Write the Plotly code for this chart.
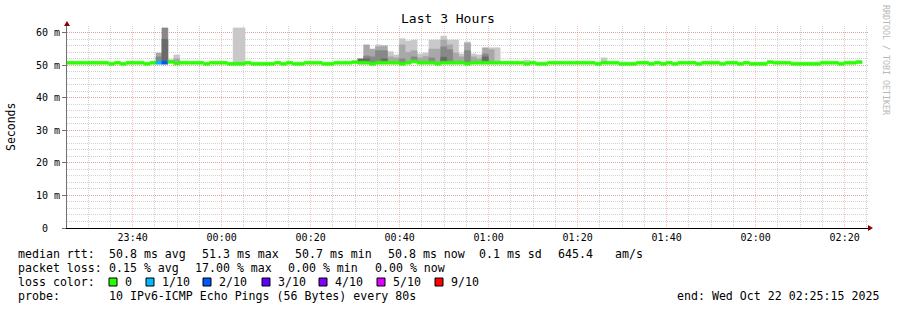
import plotly.graph_objects as go
import pandas as pd

# ---------------- data ----------------
start = pd.Timestamp("2025-10-21 23:25:15")
end = pd.Timestamp("2025-10-22 02:25:15")
STEP_S = 80

H_, L_ = 50.8, 50.5
median_ms = (
    [H_]*7 + [L_] + [H_] + [L_] + [H_]*3 + [L_] + [H_] + [H_, H_] + [51.1, 50.6]
    + [H_]*4 + [L_] + [H_]*3 + [L_] + [L_, L_] + [H_] + [L_]*4 + [H_] + [L_] + [H_] + [L_]
    + [L_] + [H_]*3 + [L_]*2 + [H_]*3 + [51.0] + [H_, H_] + [L_] + [H_]*4 + [L_] + [H_]
    + [51.2] + [H_]*3 + [L_] + [H_]*4 + [L_] + [H_]*5
    + [H_]*4 + [L_] + [H_] + [L_]*2 + [H_]*8 + [L_] + [H_]*3 + [L_]*3 + [H_]*2 + [L_]
    + [H_] + [L_] + [H_] + [L_] + [H_]*3 + [L_] + [H_]*3 + [L_] + [H_]*2 + [L_] + [H_]
    + [L_]*3 + [51.0] + [H_]*3 + [L_]*5 + [H_]*3 + [L_] + [H_]*2 + [51.0]
)
N = len(median_ms)

loss_steps = [15, 16]
loss_tenths = [1, 2]

smoke_steps = [15, 16, 17, 18, 28, 29,
               49, 50, 51, 52, 53, 54, 55, 56, 57, 58, 59, 60, 61, 62, 63, 64,
               65, 66, 67, 68, 69, 70, 71, 72, 77, 90]
smoke_l1 = [None, None, 51.7, 53.2, 61.5, 61.5,
            None, None, None, 56.3, None, 54.2, 53.2, 58.2, 57.5, 57.8, 53.5, 53.8, 57.8, 57.8, 59.0, 57.8,
            57.8, 53.5, 57.2, 53.5, 53.2, None, 55.4, 55.4, 51.6, 52.3]
smoke_l2 = [53.8, None, None, 52.0, None, None,
            None, 56.3, 55.0, 55.7, 56.0, 52.6, 52.3, 56.3, 54.0, 54.5, 52.3, 52.8, 55.0, 55.0, 57.8, 56.3,
            53.8, 52.6, 56.8, 52.6, 52.0, 55.4, 54.8, None, None, None]
smoke_l3 = [52.6, 61.5, None, None, None, None,
            None, 52.9, 52.6, 54.5, 54.5, None, None, 52.0, None, 52.6, None, None, 52.3, None, 55.7, 54.8,
            None, None, 54.5, None, None, 53.5, None, None, None, None]
smoke_l4 = [None, 58.0, None, None, None, None,
            52.0, 52.0, None, None, 52.0, None, None, None, None, None, None, None, None, None, 52.5, None,
            None, None, None, None, None, 52.6, None, None, None, None]

y_ticks = [0, 10, 20, 30, 40, 50, 60]
y_tick_text = ["0\u00a0\u00a0", "10\u00a0m", "20\u00a0m", "30\u00a0m", "40\u00a0m", "50\u00a0m", "60\u00a0m"]

loss_labels = ["0", "1/10", "2/10", "3/10", "4/10", "5/10", "9/10"]
loss_colors = ["#26ff00", "#00b8ff", "#0059ff", "#5e00ff", "#7e00ff", "#dd00ff", "#ff0000"]
loss_color_by_tenth = {0: "#26ff00", 1: "#00b8ff", 2: "#0059ff", 3: "#5e00ff",
                       4: "#7e00ff", 5: "#dd00ff", 9: "#ff0000"}

# ---------------- layout geometry ----------------
W, Hh = 897, 310
ML, MR, MT, MB = 67, 29, 26, 82
PW = W - ML - MR
PH = Hh - MT - MB
FONT = "DejaVu Sans Mono"


def px(xp):
    return (xp - ML) / PW


def py(yp):
    return (MT + PH - yp) / PH


times = [start + pd.Timedelta(seconds=STEP_S * (i + 0.5)) for i in range(N)]
WIDTH_MS = STEP_S * 1000

fig = go.Figure()

smoke_shades = ["#c8c8c8", "#a8a8a8", "#888888", "#6a6a6a"]
for level, shade in zip([smoke_l1, smoke_l2, smoke_l3, smoke_l4], smoke_shades):
    xs, bases, hs = [], [], []
    for s, v in zip(smoke_steps, level):
        if v is None:
            continue
        xs.append(times[s])
        bases.append(median_ms[s])
        hs.append(v - median_ms[s])
    fig.add_trace(go.Bar(x=xs, y=hs, base=bases, width=WIDTH_MS,
                         marker=dict(color=shade, line=dict(width=0.6, color=shade)),
                         showlegend=False, hoverinfo="skip"))

loss = [0] * N
for s, l in zip(loss_steps, loss_tenths):
    loss[s] = l
med_cols = [loss_color_by_tenth[l] for l in loss]
fig.add_trace(go.Bar(x=times, y=[0.9] * N, base=[m - 0.45 for m in median_ms],
                     width=WIDTH_MS,
                     marker=dict(color=med_cols, line=dict(width=0.6, color=med_cols)),
                     showlegend=False, hoverinfo="skip"))

grid_minor = "rgba(165,165,165,0.5)"
grid_major = "rgba(255,90,90,0.4)"

fig.update_layout(
    width=W, height=Hh,
    margin=dict(l=ML, r=MR, t=MT, b=MB, pad=0),
    paper_bgcolor="white", plot_bgcolor="white",
    barmode="overlay",
    font=dict(family=FONT, size=10, color="#000"),
    xaxis=dict(type="date", range=[start, end], tickformat="%H:%M",
               tick0="2025-10-21 23:40:00", dtick=20 * 60 * 1000,
               showgrid=True, gridcolor=grid_major, griddash="1px,1px", gridwidth=1,
               minor=dict(dtick=5 * 60 * 1000, showgrid=True, gridcolor=grid_minor,
                          griddash="1px,1px", gridwidth=1),
               showline=True, linecolor="#000", linewidth=1,
               ticks="", ticklen=3, zeroline=False,
               tickfont=dict(family=FONT, size=10, color="#000")),
    yaxis=dict(range=[0, (PH) / 3.253], tickvals=y_ticks, ticktext=y_tick_text,
               showgrid=True, gridcolor=grid_major, griddash="1px,1px", gridwidth=1,
               minor=dict(dtick=2, showgrid=True, gridcolor=grid_minor,
                          griddash="1px,1px", gridwidth=1),
               showline=True, linecolor="#707070", linewidth=1,
               ticks="outside", ticklen=4, tickcolor="#707070", zeroline=False,
               tickfont=dict(family=FONT, size=10, color="#000")),
)

ann = []
ann.append(dict(text="Last 3 Hours", x=px(448), y=py(19), xref="paper", yref="paper",
                showarrow=False, xanchor="center", yanchor="middle",
                font=dict(family=FONT, size=13, color="#000")))
ann.append(dict(text="Seconds", x=px(11), y=py(127), xref="paper", yref="paper",
                showarrow=False, xanchor="center", yanchor="middle", textangle=-90,
                font=dict(family=FONT, size=11.5, color="#000")))
ann.append(dict(text="RRDTOOL / TOBI OETIKER", x=px(886), y=py(60), xref="paper", yref="paper",
                showarrow=False, xanchor="center", yanchor="middle", textangle=90,
                font=dict(family=FONT, size=8.3, color="#b8b8b8")))

LEG_FS = 11.6
legend_rows = [
    (254, [("median rtt:", 16), ("50.8 ms avg", 107), ("51.3 ms max", 200),
           ("50.7 ms min", 293), ("50.8 ms now", 386), ("0.1 ms sd", 477),
           ("645.4", 556), ("am/s", 613)]),
    (268, [("packet loss:", 16), ("0.15 % avg", 107), ("17.00 % max", 193),
           ("0.00 % min", 286), ("0.00 % now", 373)]),
    (282, [("loss color:", 16)]),
    (296, [("probe:", 16), ("10 IPv6-ICMP Echo Pings (56 Bytes) every 80s", 107)]),
]
for yp, items in legend_rows:
    for t, xp in items:
        ann.append(dict(text=t.replace(" ", "\u00a0"), x=px(xp), y=py(yp), xref="paper", yref="paper",
                        showarrow=False, xanchor="left", yanchor="middle",
                        font=dict(family=FONT, size=LEG_FS, color="#000")))
ann.append(dict(text="end:\u00a0Wed\u00a0Oct\u00a022\u00a002:25:15\u00a02025", x=px(881), y=py(296),
                xref="paper", yref="paper", showarrow=False, xanchor="right", yanchor="middle",
                font=dict(family=FONT, size=LEG_FS, color="#000")))

box_x = [109, 146, 203, 262, 319, 377, 435]
shapes = []
for bx, lab, col in zip(box_x, loss_labels, loss_colors):
    shapes.append(dict(type="rect", xref="paper", yref="paper",
                       x0=px(bx), x1=px(bx + 8), y0=py(286), y1=py(278),
                       fillcolor=col, line=dict(color="#000", width=1)))
    ann.append(dict(text=lab, x=px(bx + 14), y=py(282), xref="paper", yref="paper",
                    showarrow=False, xanchor="left", yanchor="middle",
                    font=dict(family=FONT, size=LEG_FS, color="#000")))

# axis arrows
shapes.append(dict(type="path", xref="paper", yref="paper", xsizemode="pixel", ysizemode="pixel",
                   xanchor=0, yanchor=1, path="M -3,0 L 3,0 L 0,5 Z",
                   fillcolor="#8b0000", line=dict(width=0)))
shapes.append(dict(type="path", xref="paper", yref="paper", xsizemode="pixel", ysizemode="pixel",
                   xanchor=1, yanchor=0, path="M 0,-3 L 0,3 L 5,0 Z",
                   fillcolor="#8b0000", line=dict(width=0)))

fig.update_layout(annotations=ann, shapes=shapes)
fig.write_html("out.html")
